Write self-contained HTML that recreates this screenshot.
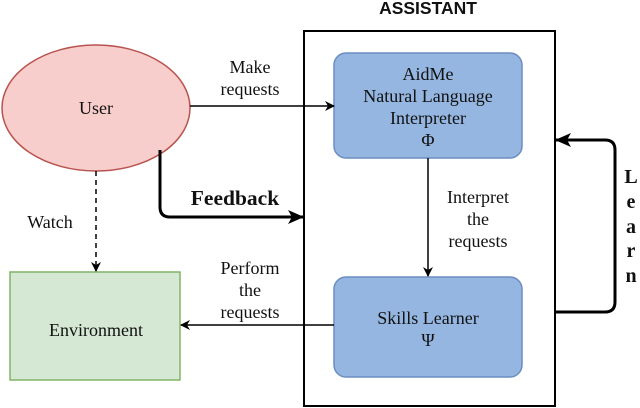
<!DOCTYPE html>
<html><head><style>body{margin:0;background:#fff}svg{display:block}text{font-family:"Liberation Serif",serif;fill:#111}</style></head><body>
<svg width="640" height="408" viewBox="0 0 640 408">
<defs>
<marker id="a" markerWidth="10" markerHeight="10" refX="9" refY="5" orient="auto" markerUnits="userSpaceOnUse"><path d="M0,0 L10,5 L0,10 L3,5z" fill="#000"/></marker>
<marker id="b" markerWidth="16" markerHeight="14" refX="15" refY="7" orient="auto" markerUnits="userSpaceOnUse"><path d="M0,0 L16,7 L0,14 L4,7z" fill="#000"/></marker>
</defs>
<text x="428" y="14" text-anchor="middle" style="font-family:'Liberation Sans',sans-serif;font-weight:bold;font-size:17.5px">ASSISTANT</text>
<rect x="304" y="31" width="251" height="375" fill="none" stroke="#000" stroke-width="2"/>
<ellipse cx="96" cy="108" rx="94" ry="63" fill="#f8cecc" stroke="#b85450" stroke-width="1.5"/>
<text x="96" y="114" text-anchor="middle" font-size="18">User</text>
<rect x="10" y="272" width="170" height="108" fill="#d5e8d4" stroke="#82b366" stroke-width="1.5"/>
<text x="96" y="336" text-anchor="middle" font-size="18">Environment</text>
<rect x="334" y="53" width="188" height="105" rx="12" fill="#94b6e0" stroke="#6c8ebf" stroke-width="1.5"/>
<text text-anchor="middle" font-size="18"><tspan x="428" y="80">AidMe</tspan><tspan x="428" y="102">Natural Language</tspan><tspan x="428" y="124">Interpreter</tspan><tspan x="428" y="146">Φ</tspan></text>
<rect x="334" y="277" width="188" height="100" rx="12" fill="#94b6e0" stroke="#6c8ebf" stroke-width="1.5"/>
<text text-anchor="middle" font-size="18"><tspan x="428" y="324">Skills Learner</tspan><tspan x="428" y="346">Ψ</tspan></text>
<line x1="190" y1="106" x2="334" y2="106" stroke="#000" stroke-width="1.5" marker-end="url(#a)"/>
<text text-anchor="middle" font-size="18"><tspan x="250" y="73">Make</tspan><tspan x="250" y="95">requests</tspan></text>
<path d="M160,150 V207 Q160,217 170,217 H303" fill="none" stroke="#000" stroke-width="3" marker-end="url(#b)"/>
<text x="235" y="205" text-anchor="middle" font-size="21.5" font-weight="bold">Feedback</text>
<line x1="96" y1="171" x2="96" y2="271" stroke="#000" stroke-width="1.5" stroke-dasharray="5,4" marker-end="url(#a)"/>
<text x="50" y="228" text-anchor="middle" font-size="18">Watch</text>
<line x1="428" y1="158" x2="428" y2="276" stroke="#000" stroke-width="1.5" marker-end="url(#a)"/>
<text text-anchor="middle" font-size="18"><tspan x="478" y="203">Interpret</tspan><tspan x="478" y="225">the</tspan><tspan x="478" y="247">requests</tspan></text>
<line x1="334" y1="325" x2="181" y2="325" stroke="#000" stroke-width="1.5" marker-end="url(#a)"/>
<text text-anchor="middle" font-size="18"><tspan x="250" y="274">Perform</tspan><tspan x="250" y="296">the</tspan><tspan x="250" y="318">requests</tspan></text>
<path d="M555,312 H605 Q615,312 615,302 V150 Q615,140 605,140 H556" fill="none" stroke="#000" stroke-width="3" marker-end="url(#b)"/>
<text text-anchor="middle" font-size="20" font-weight="bold"><tspan x="631" y="183">L</tspan><tspan x="631" y="208">e</tspan><tspan x="631" y="233">a</tspan><tspan x="631" y="257">r</tspan><tspan x="631" y="282">n</tspan></text>
</svg>
</body></html>
